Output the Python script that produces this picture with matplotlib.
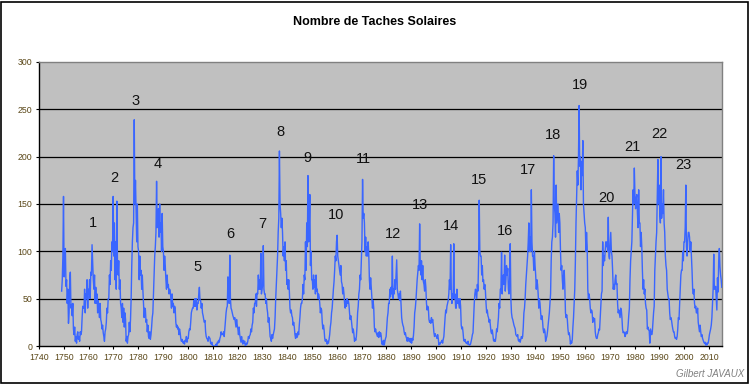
import matplotlib
matplotlib.use("Agg")
import matplotlib.pyplot as plt
import numpy as np
from matplotlib.patches import Rectangle

plt.rcParams['font.family'] = ['Liberation Sans', 'DejaVu Sans']

ssn_1749_1799 = [
    58, 70, 95, 158,  73, 100, 103, 63,  70, 45, 60, 24,  35, 71, 78, 40,  44, 32, 45, 18,   # 1749-1753
    12, 20, 5, 10,  3, 12, 15, 7,  10, 5, 15, 12,  15, 30, 42, 40,  40, 60, 35, 55,          # 1754-1758
    50, 70, 40, 60,  55, 70, 50, 78,  75, 107, 90, 70,  60, 75, 45, 62,  45, 55, 35, 48,     # 1759-1763
    40, 30, 45, 28,  25, 18, 22, 14,  10, 5, 15, 18,  25, 40, 35, 50,  50, 75, 65, 90,       # 1764-1768
    80, 110, 100, 158,  95, 130, 70, 110,  60, 153, 85, 75,  90, 60, 70, 45,  40, 30, 45, 25,  # 1769-1773
    40, 20, 35, 28,  5, 10, 3, 10,  12, 25, 15, 28,  50, 85, 110, 125,  130, 239, 150, 175,  # 1774-1778
    140, 110, 150, 105,  100, 70, 95, 75,  80, 60, 75, 58,  45, 30, 40, 38,  25, 28, 15, 22,  # 1779-1783
    10, 8, 15, 7,  12, 20, 30, 35,  55, 75, 95, 105,  120, 174, 125, 140,  145, 115, 150, 120,  # 1784-1788
    130, 100, 140, 105,  100, 80, 95, 85,  70, 60, 75, 62,  65, 55, 60, 58,  50, 40, 55, 42,  # 1789-1793
    45, 35, 42, 40,  25, 20, 22, 18,  20, 12, 18, 14,  8, 5, 7, 5,  3, 5, 2, 6,               # 1794-1798
    5, 10, 4, 8,                                                                           # 1799
]
ssn_1800_1849 = [
    8, 15, 18, 17,  25, 35, 38, 40,  40, 48, 42, 50,  42, 50, 38, 45,  45, 55, 62, 48,       # 1800-1804
    48, 40, 45, 35,  32, 28, 25, 27,  15, 10, 8, 7,  5, 10, 9, 8,  3, 2, 4, 1,               # 1805-1809
    0, 0, 0, 0,  0, 2, 0, 4,  3, 6, 4, 8,  10, 15, 12, 13,  12, 15, 10, 18,                  # 1810-1814
    25, 35, 40, 42,  73, 50, 45, 96,  50, 40, 38, 35,  32, 30, 28, 30,  25, 20, 28, 22,      # 1815-1819
    18, 12, 20, 12,  8, 4, 10, 5,  2, 6, 3, 5,  0, 1, 3, 2,  5, 10, 8, 11,                   # 1820-1824
    12, 18, 15, 22,  25, 40, 35, 45,  45, 55, 42, 56,  55, 75, 60, 70,  60, 98, 55, 60,      # 1825-1829
    65, 106, 60, 55,  55, 45, 50, 40,  35, 25, 30, 20,  10, 8, 5, 12,  8, 12, 15, 18,        # 1830-1834
    30, 50, 65, 80,  95, 120, 135, 206,  150, 140, 125, 135,  120, 95, 105, 90,  110, 80, 90, 65,  # 1835-1839
    70, 60, 70, 58,  40, 35, 38, 32,  30, 22, 25, 20,  12, 8, 13, 9,  10, 15, 12, 22,        # 1840-1844
    30, 40, 45, 45,  50, 65, 55, 75,  70, 110, 80, 130,  105, 180, 110, 125,  160, 85, 100, 70,  # 1845-1849
]
ssn_1850_1899 = [
    70, 60, 75, 62,  70, 55, 75, 58,  60, 50, 55, 52,  45, 35, 40, 38,  25, 18, 22, 17,      # 1850-1854
    8, 5, 7, 6,  2, 5, 3, 7,  12, 20, 25, 35,  40, 50, 60, 68,  80, 95, 90, 110,             # 1855-1859
    117, 95, 90, 85,  80, 75, 85, 68,  65, 55, 62, 55,  45, 40, 48, 42,  50, 45, 48, 44,     # 1860-1864
    35, 28, 32, 27,  20, 14, 18, 13,  5, 8, 6, 10,  20, 35, 42, 55,  60, 75, 70, 90,         # 1865-1869
    110, 176, 135, 140,  130, 100, 115, 95,  105, 95, 110, 97,  70, 60, 72, 62,  50, 40, 48, 40,  # 1870-1874
    20, 15, 18, 14,  12, 10, 14, 9,  15, 10, 14, 11,  2, 5, 1, 6,  1, 5, 8, 10,              # 1875-1879
    20, 30, 35, 45,  45, 60, 52, 62,  55, 95, 50, 60,  55, 70, 60, 75,  91, 60, 55, 50,      # 1880-1884
    55, 48, 58, 45,  30, 25, 22, 20,  15, 12, 14, 10,  8, 5, 9, 6,  5, 8, 4, 8,              # 1885-1889
    3, 8, 6, 11,  20, 35, 40, 48,  60, 70, 78, 85,  80, 129, 85, 75,  90, 70, 85, 68,        # 1890-1894
    65, 58, 70, 62,  45, 38, 42, 40,  28, 25, 27, 24,  30, 25, 28, 22,  14, 10, 13, 11,      # 1895-1899
]
ssn_1900_1949 = [
    10, 8, 12, 8,  1, 3, 2, 4,  4, 6, 3, 7,  10, 20, 30, 38,  35, 42, 45, 48,                # 1900-1904
    55, 70, 60, 107,  60, 45, 55, 50,  108, 50, 55, 40,  40, 60, 45, 50,  45, 40, 50, 42,    # 1905-1909
    22, 18, 20, 14,  6, 5, 7, 4,  3, 4, 2, 5,  2, 1, 1, 2,  5, 8, 12, 14,                    # 1910-1914
    30, 45, 55, 60,  55, 50, 65, 58,  90, 154, 100, 95,  95, 75, 85, 68,  70, 60, 65, 58,    # 1915-1919
    45, 35, 38, 32,  30, 25, 28, 22,  15, 13, 17, 12,  6, 5, 7, 5,  10, 18, 15, 22,          # 1920-1924
    30, 45, 40, 60,  60, 99, 55, 72,  75, 65, 96, 58,  70, 85, 75, 82,  60, 55, 70, 108,     # 1925-1929
    50, 35, 30, 28,  25, 22, 20, 18,  12, 11, 10, 12,  6, 5, 7, 4,  7, 10, 8, 10,            # 1930-1934
    20, 35, 40, 50,  65, 75, 85, 95,  110, 130, 100, 115,  100, 165, 110, 95,  95, 80, 100, 85,  # 1935-1939
    75, 60, 70, 65,  55, 40, 50, 45,  35, 28, 32, 27,  18, 14, 18, 15,  5, 8, 10, 15,        # 1940-1944
    22, 30, 35, 45,  55, 90, 110, 115,  130, 201, 150, 140,  115, 170, 130, 140,  150, 120, 140, 130,  # 1945-1949
]
ssn_1950_2015 = [
    100, 80, 85, 70,  60, 75, 80, 62,  35, 30, 33, 28,  18, 12, 14, 10,  2, 5, 3, 7,         # 1950-1954
    20, 30, 45, 60,  90, 130, 160, 185,  170, 200, 254, 190,  200, 165, 195, 180,  217, 150, 140, 130,  # 1955-1959
    125, 100, 120, 105,  60, 50, 55, 50,  40, 35, 38, 36,  25, 30, 28, 29,  15, 10, 8, 8,    # 1960-1964
    12, 14, 18, 17,  30, 45, 55, 58,  110, 85, 95, 90,  100, 110, 105, 110,  100, 136, 95, 92,  # 1965-1969
    105, 120, 100, 95,  80, 60, 65, 60,  70, 75, 65, 66,  45, 35, 38, 34,  30, 40, 38, 30,   # 1970-1974
    18, 14, 15, 14,  10, 12, 15, 13,  15, 22, 32, 40,  70, 90, 100, 110,  140, 165, 150, 188,  # 1975-1979
    160, 145, 155, 160,  140, 125, 165, 130,  130, 105, 120, 105,  80, 60, 70, 55,  60, 45, 40, 38,  # 1980-1984
    18, 20, 17, 16,  3, 18, 15, 12,  15, 25, 35, 42,  80, 95, 110, 120,  160, 197, 150, 170,  # 1985-1989
    140, 130, 200, 135,  150, 140, 165, 130,  120, 95, 85, 80,  60, 55, 50, 50,  35, 28, 30, 27,  # 1990-1994
    22, 18, 15, 15,  10, 8, 9, 7,  10, 18, 30, 28,  45, 60, 75, 80,  80, 100, 90, 110,       # 1995-1999
    110, 125, 170, 105,  95, 110, 120, 120,  115, 100, 110, 95,  80, 60, 55, 60,  45, 40, 42, 35,  # 2000-2004
    35, 40, 25, 20,  15, 22, 15, 10,  12, 8, 6, 4,  3, 4, 1, 3,  1, 3, 3, 7,                 # 2005-2009
    12, 15, 18, 22,  30, 45, 60, 97,  60, 60, 63, 50,  38, 72, 57, 90,  103, 84, 75, 70,     # 2010-2014
    62,                                                                                    # 2015
]

ticks_x = list(range(1740, 2011, 10))
ticks_y = [0, 50, 100, 150, 200, 250, 300]
cycle_names = [str(i) for i in range(1, 24)]
# position des numeros de cycle (annee, hauteur)
cycle_pos = [
    (1761.7, 130), (1770.3, 177), (1778.9, 259), (1787.8, 192), (1804.0, 83),
    (1817.1, 118), (1829.8, 129), (1837.1, 226), (1848.0, 199), (1859.8, 138),
    (1870.6, 198), (1882.7, 118), (1893.5, 149), (1906.0, 127), (1917.3, 175),
    (1927.8, 121), (1937.1, 186), (1947.2, 223), (1958.1, 276), (1968.7, 156),
    (1979.0, 210), (1989.8, 224), (1999.8, 191),
]

ssn = np.concatenate([ssn_1749_1799, ssn_1800_1849, ssn_1850_1899,
                      ssn_1900_1949, ssn_1950_2015]).astype(float)
years = 1749 + (np.arange(len(ssn)) + 0.5) / 4

fig = plt.figure(figsize=(7.5, 3.84), dpi=100)
ax = fig.add_axes([39 / 750, 1 - 346 / 384, (722 - 39) / 750, (346 - 62) / 384])
ax.set_facecolor('#c0c0c0')

ax.plot(years, ssn, color='#3a66ff', linewidth=1.0, zorder=3)

for v in ticks_y[1:-1]:
    ax.axhline(v, color='black', linewidth=0.9, zorder=2)

for name, (xx, yy) in zip(cycle_names, cycle_pos):
    ax.text(xx, yy, name, ha='center', va='center', fontsize=10.5, color='#111111', zorder=4)

ax.set_xlim(1740, 2015.2)
ax.set_ylim(0, 300)
ax.set_xticks(ticks_x)
ax.set_yticks(ticks_y)
ax.tick_params(axis='both', labelsize=6.3, labelcolor='#5a4718', length=2.5, width=0.8,
               direction='out', pad=2.5)

for s in ['left', 'bottom']:
    ax.spines[s].set_color('black')
    ax.spines[s].set_linewidth(1)
for s in ['top', 'right']:
    ax.spines[s].set_color('#808080')
    ax.spines[s].set_linewidth(1)

fig.text(375 / 750, 1 - 22 / 384, 'Nombre de Taches Solaires', ha='center', va='center',
         fontsize=9, fontweight='bold', color='black')
fig.text(744 / 750, 1 - 374 / 384, 'Gilbert JAVAUX', ha='right', va='center',
         fontsize=7, fontstyle='italic', color='#808080')

fig.patches.append(Rectangle((1 / 750, 1.5 / 384), 746.5 / 750, 381 / 384,
                             transform=fig.transFigure, fill=False,
                             edgecolor='black', linewidth=1.2))

fig.savefig('out.png', dpi=100)
